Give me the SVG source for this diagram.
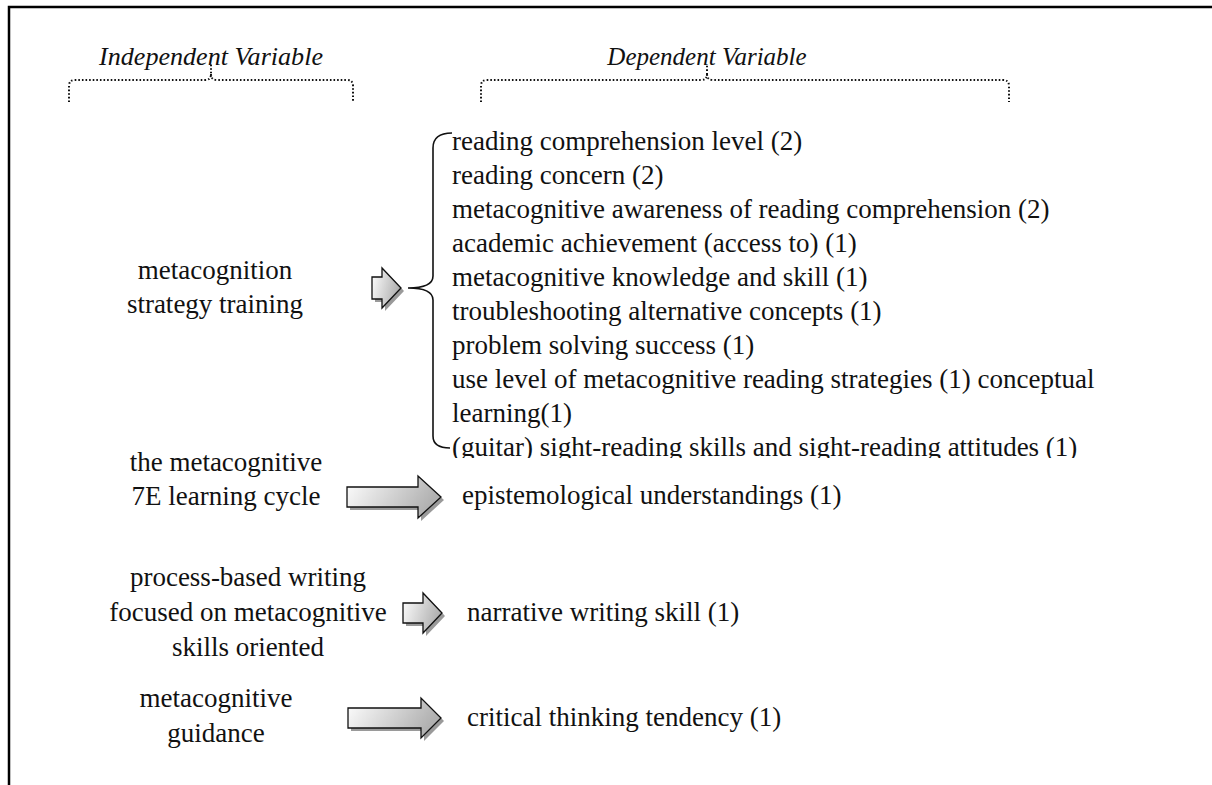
<svg xmlns="http://www.w3.org/2000/svg" width="1212" height="785" viewBox="0 0 1212 785">
  <style>
    .t { font-family: "Liberation Serif", "Times New Roman", serif; font-size: 27px; fill: #111; }
    .c { text-anchor: middle; }
    .h { font-family: "Liberation Serif", "Times New Roman", serif; font-size: 25px; font-style: italic; fill: #111; text-anchor: middle; }
    .dot { fill: none; stroke: #111; stroke-width: 2; stroke-dasharray: 1.6 2; }
    .brace { fill: none; stroke: #111; stroke-width: 1.6; }
    .arr { fill: url(#arrFill); stroke: #111; stroke-width: 1.3; stroke-linejoin: miter; }
    .shd { fill: #9a9a9a; stroke: none; }
  </style>
  <defs>
    <linearGradient id="arrFill" x1="0" y1="0" x2="1" y2="0.3">
      <stop offset="0" stop-color="#ffffff"/>
      <stop offset="1" stop-color="#b0b0b0"/>
    </linearGradient>
    <clipPath id="lastLine">
      <rect x="440" y="420" width="700" height="38"/>
    </clipPath>
  </defs>
  <rect width="1212" height="785" fill="#fff"/>

  <!-- frame -->
  <path d="M9,785 L9,7 L1212,7" fill="none" stroke="#000" stroke-width="2.5"/>

  <!-- column headings -->
  <g id="heading-independent">
    <text class="h" x="211" y="65" textLength="224" lengthAdjust="spacingAndGlyphs">Independent Variable</text>
    <path class="dot" d="M69,102 L69,86 Q69,80 75,80 L205,80 Q211,80 211,74 L211,64 M211,74 Q211,80 217,80 L347,80 Q353,80 353,86 L353,102"/>
  </g>
  <g id="heading-dependent">
    <text class="h" x="707" y="65">Dependent Variable</text>
    <path class="dot" d="M481,102 L481,86 Q481,80 487,80 L701,80 Q707,80 707,74 L707,64 M707,74 Q707,80 713,80 L1003,80 Q1009,80 1009,86 L1009,102"/>
  </g>

  <!-- independent variables -->
  <g id="iv-strategy-training">
    <text class="t c" x="215" y="279">metacognition</text>
    <text class="t c" x="215" y="313">strategy training</text>
  </g>
  <g id="iv-7e-cycle">
    <text class="t c" x="226" y="471">the metacognitive</text>
    <text class="t c" x="226" y="505">7E learning cycle</text>
  </g>
  <g id="iv-process-writing">
    <text class="t c" x="248" y="586">process-based writing</text>
    <text class="t c" x="248" y="621">focused on metacognitive</text>
    <text class="t c" x="248" y="656">skills oriented</text>
  </g>
  <g id="iv-guidance">
    <text class="t c" x="216" y="707">metacognitive</text>
    <text class="t c" x="216" y="742">guidance</text>
  </g>

  <!-- dependent variables -->
  <g id="dv-list">
    <text class="t" x="452" y="150">reading comprehension level (2)</text>
    <text class="t" x="452" y="184">reading concern (2)</text>
    <text class="t" x="452" y="218">metacognitive awareness of reading comprehension (2)</text>
    <text class="t" x="452" y="252">academic achievement (access to) (1)</text>
    <text class="t" x="452" y="286">metacognitive knowledge and skill (1)</text>
    <text class="t" x="452" y="320">troubleshooting alternative concepts (1)</text>
    <text class="t" x="452" y="354">problem solving success (1)</text>
    <text class="t" x="452" y="388">use level of metacognitive reading strategies (1) conceptual</text>
    <text class="t" x="452" y="422">learning(1)</text>
    <text class="t" x="452" y="456" clip-path="url(#lastLine)">(guitar) sight-reading skills and sight-reading attitudes (1)</text>
  </g>
  <g id="dv-epistemological">
    <text class="t" x="462" y="504">epistemological understandings (1)</text>
  </g>
  <g id="dv-narrative">
    <text class="t" x="467" y="621">narrative writing skill (1)</text>
  </g>
  <g id="dv-critical">
    <text class="t" x="467" y="726">critical thinking tendency (1)</text>
  </g>

  <!-- connectors: block arrows and brace -->
  <g id="connectors">
    <polygon class="shd" transform="translate(3,3)" points="372,277 382,277 382,268 401,288 382,308 382,299 372,299"/>
    <polygon class="arr" points="372,277 382,277 382,268 401,288 382,308 382,299 372,299"/>

    <polygon class="shd" transform="translate(3,3)" points="347,487 418,487 418,476 441,497 418,518 418,507 347,507"/>
    <polygon class="arr" points="347,487 418,487 418,476 441,497 418,518 418,507 347,507"/>

    <polygon class="shd" transform="translate(3,3)" points="403,603 423,603 423,593 442,613 423,633 423,623 403,623"/>
    <polygon class="arr" points="403,603 423,603 423,593 442,613 423,633 423,623 403,623"/>

    <polygon class="shd" transform="translate(3,3)" points="348,708 421,708 421,698 441,718 421,738 421,728 348,728"/>
    <polygon class="arr" points="348,708 421,708 421,698 441,718 421,738 421,728 348,728"/>

    <path class="brace" d="M452,133 Q433,133 433,148 L433,276 Q433,288 408,288 Q433,288 433,300 L433,436 Q433,448 450,448"/>
  </g>
</svg>
